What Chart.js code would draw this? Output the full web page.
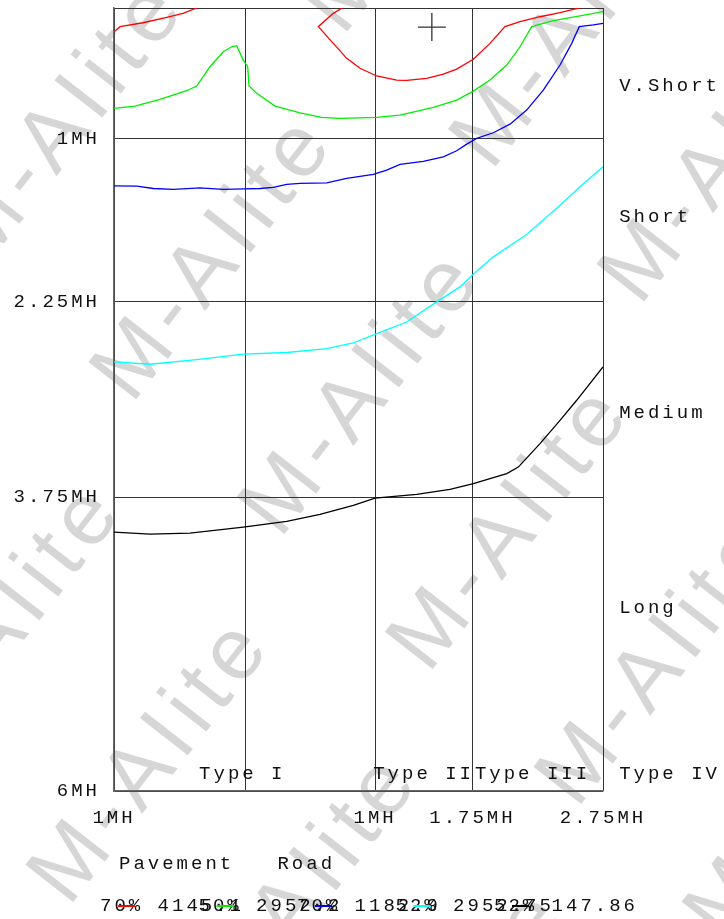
<!DOCTYPE html>
<html><head><meta charset="utf-8">
<script src="https://cdn.jsdelivr.net/npm/chart.js@4.4.0/dist/chart.umd.min.js"></script>
<style>html,body{margin:0;padding:0;background:#fff}#wrap{width:724px;height:919px}</style>
</head><body><div id="wrap"><canvas id="c" width="724" height="919"></canvas></div>
<script>
// ---- data ----
const yTickValues = [0, 1, 2.25, 3.75, 6];
const yTickLabels = ['', '1MH', '2.25MH', '3.75MH', '6MH'];
const xTickValues = [0, 26.8, 53.4, 73.3, 100];
const xTickLabels = ['1MH', '', '1MH', '1.75MH', '2.75MH'];
const typeLabels = ['Type I', 'Type II', 'Type III', 'Type IV'];
const typeX = [17.4, 53.0, 73.8, 103.3];
const typeY = 5.87;
const bandLabels = ['V.Short', 'Short', 'Medium', 'Long'];
const bandY = [0.6, 1.6, 3.1, 4.6];
const axisTitle = 'Pavement   Road';
const legendLabels = ['70% 4145.1', '50% 2952.2', '70% 1182.9', '52% 2952.75', '52% 147.86'];
const legendColors = ['#ff0000', '#00ee00', '#0000ff', '#00ffff', '#000000'];
const markerX = [65.0];
const markerY = [0.146];

const redX = [0, 1.23, 5.93, 10.78, 14.11, 16.91, 17.6, null, 47.3, 46.83, 44.85, 41.78, 44.85, 47.59, 50.31, 53.72, 57.81, 59.86, 63.95, 67.34, 70.08, 73.48, 76.89, 79.96, 83.03, 87.12, 91.21, 95.64, 96.2];
const redY = [0.182, 0.143, 0.113, 0.071, 0.041, 0.0, -0.03, null, -0.03, -0.005, 0.041, 0.143, 0.271, 0.386, 0.462, 0.521, 0.552, 0.554, 0.539, 0.506, 0.468, 0.393, 0.271, 0.143, 0.105, 0.067, 0.036, -0.005, -0.03];
const greenX = [0, 4.29, 9.41, 14.87, 16.91, 19.63, 22.35, 24.07, 25.09, 26.44, 27.34, 27.61, 29.18, 32.92, 38.04, 42.47, 46.22, 53.72, 58.49, 65.30, 70.08, 73.48, 76.89, 80.31, 83.03, 85.42, 89.84, 95.30, 100];
const greenY = [0.769, 0.752, 0.700, 0.634, 0.598, 0.450, 0.335, 0.297, 0.289, 0.399, 0.450, 0.598, 0.654, 0.752, 0.803, 0.838, 0.846, 0.838, 0.821, 0.761, 0.706, 0.637, 0.552, 0.437, 0.297, 0.143, 0.097, 0.061, 0.028];
const blueX = [0, 4.64, 8.04, 12.13, 17.59, 22.35, 26.65, 29.86, 32.58, 35.32, 38.04, 43.50, 47.59, 53.03, 55.77, 58.49, 63.25, 67.34, 70.08, 72.13, 74.17, 77.57, 80.98, 84.39, 87.79, 91.21, 93.60, 95.15, 98.02, 100];
const blueY = [1.363, 1.365, 1.383, 1.390, 1.378, 1.390, 1.386, 1.383, 1.375, 1.352, 1.344, 1.340, 1.306, 1.275, 1.242, 1.199, 1.176, 1.140, 1.094, 1.043, 0.999, 0.956, 0.890, 0.782, 0.629, 0.437, 0.271, 0.143, 0.130, 0.117];
const cyanX = [0, 7.36, 16.91, 26.44, 35.32, 43.50, 48.94, 53.72, 59.86, 65.99, 70.76, 73.48, 77.57, 84.39, 91.21, 95.30, 100];
const cyanY = [2.712, 2.730, 2.694, 2.653, 2.640, 2.610, 2.567, 2.495, 2.406, 2.252, 2.137, 2.040, 1.907, 1.735, 1.511, 1.370, 1.217];
const blackX = [0, 7.36, 15.54, 26.44, 35.32, 42.13, 48.94, 53.37, 61.90, 68.71, 73.48, 80.31, 82.68, 87.12, 91.21, 94.62, 100];
const blackY = [4.016, 4.031, 4.024, 3.978, 3.934, 3.880, 3.811, 3.755, 3.727, 3.689, 3.645, 3.568, 3.518, 3.338, 3.160, 3.006, 2.751];

const watermarkText = 'M-AIite';

// ---- helpers ----
const MONO = "'Liberation Mono', 'DejaVu Sans Mono', monospace";
const FS = 19;
const LS = '3px';
function pts(xs, ys) { return xs.map((x, i) => ({ x: x === null ? NaN : x, y: ys[i] })); }
function line(xs, ys, color) {
  return { data: pts(xs, ys), showLine: true, borderColor: color, backgroundColor: color,
    borderWidth: 1.3, pointRadius: 0, tension: 0, spanGaps: false };
}

const textPlugin = {
  id: 'texts',
  beforeDraw(chart) {
    const ctx = chart.ctx;
    ctx.letterSpacing = '0px';
    ctx.save();
    ctx.fillStyle = 'rgba(210,210,210,0.9)';
    ctx.font = "88px 'Liberation Sans', Arial, sans-serif";
    ctx.letterSpacing = '8px';
    ctx.textBaseline = 'alphabetic';
    ctx.rotate(-52 * Math.PI / 180);
    const bu = -253, bv = 553;
    for (let n = -4; n <= 4; n++) {
      for (let m = -5; m <= 5; m++) {
        const u = bu + n * 420 - m * 15;
        const v = bv - n * 60 + m * 200;
        ctx.fillText(watermarkText, u, v);
      }
    }
    ctx.restore();
    ctx.letterSpacing = LS;
  },
  afterDraw(chart) {
    const ctx = chart.ctx;
    const xs = chart.scales.x, ys = chart.scales.y;
    ctx.save();
    ctx.letterSpacing = LS;
    ctx.font = FS + 'px ' + MONO;
    ctx.fillStyle = '#111';
    ctx.textAlign = 'left';
    ctx.textBaseline = 'middle';
    typeLabels.forEach((t, i) => ctx.fillText(t, xs.getPixelForValue(typeX[i]), ys.getPixelForValue(typeY)));
    bandLabels.forEach((t, i) => ctx.fillText(t, xs.getPixelForValue(103.3), ys.getPixelForValue(bandY[i])));
    ctx.fillText(axisTitle, 119, 864);
    const lx0 = 100, step = 98.5, ly = 906;
    legendLabels.forEach((t, i) => ctx.fillText(t, lx0 + i * step, ly));
    legendColors.forEach((c, i) => {
      ctx.strokeStyle = c; ctx.lineWidth = 2;
      ctx.beginPath(); ctx.moveTo(lx0 + i * step + 18, ly); ctx.lineTo(lx0 + i * step + 35, ly); ctx.stroke();
    });
    ctx.restore();
  }
};

const gridColor = '#333';
new Chart(document.getElementById('c'), {
  type: 'scatter',
  data: {
    datasets: [
      line(redX, redY, '#ff0000'),
      line(greenX, greenY, '#00ee00'),
      line(blueX, blueY, '#0000ff'),
      line(cyanX, cyanY, '#00ffff'),
      line(blackX, blackY, '#000000'),
      { data: pts(markerX, markerY), pointStyle: 'cross', pointRadius: 14, borderColor: '#333', borderWidth: 1.3, showLine: false }
    ]
  },
  options: {
    responsive: false,
    devicePixelRatio: 1,
    animation: false,
    layout: { autoPadding: false, padding: { left: 0, right: 121, top: 8, bottom: 0 } },
    plugins: { legend: { display: false }, tooltip: { enabled: false }, title: { display: false } },
    scales: {
      x: {
        type: 'linear', min: 0, max: 100,
        afterBuildTicks: s => { s.ticks = xTickValues.map(v => ({ value: v })); },
        afterFit: s => { s.height = 128; s.paddingLeft = 0; s.paddingRight = 0; },
        ticks: { autoSkip: false, maxRotation: 0, padding: 16, color: '#111',
          font: { family: MONO, size: FS },
          callback: v => { const i = xTickValues.indexOf(v); return i >= 0 ? xTickLabels[i] : ''; } },
        grid: { color: gridColor, lineWidth: 1, drawTicks: false },
        border: { display: true, color: '#666', width: 1.5 }
      },
      y: {
        type: 'linear', min: 0, max: 6, reverse: true,
        afterBuildTicks: s => { s.ticks = yTickValues.map(v => ({ value: v })); },
        afterFit: s => { s.width = 114; s.paddingTop = 0; s.paddingBottom = 0; },
        ticks: { autoSkip: false, padding: 14, color: '#111',
          font: { family: MONO, size: FS },
          callback: v => { const i = yTickValues.indexOf(v); return i >= 0 ? yTickLabels[i] : ''; } },
        grid: { color: gridColor, lineWidth: 1, drawTicks: false },
        border: { display: true, color: '#666', width: 1.5 }
      }
    }
  },
  plugins: [textPlugin]
});
</script></body></html>
